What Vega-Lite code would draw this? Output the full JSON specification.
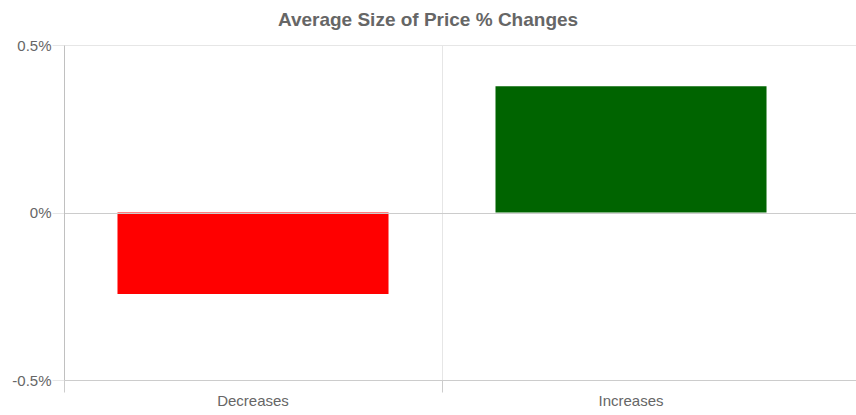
{
  "$schema": "https://vega.github.io/schema/vega-lite/v6.json",
  "autosize": {"type": "none"},
  "padding": {"left": 64, "top": 45, "right": 0, "bottom": 35},
  "width": 792,
  "height": 335,
  "background": "white",
  "title": {
    "text": "Average Size of Price % Changes",
    "font": "Liberation Sans",
    "fontSize": 19,
    "fontWeight": "bold",
    "color": "#666666",
    "anchor": "middle",
    "dx": -32,
    "offset": 8
  },
  "data": {
    "values": [
      {"category": "Decreases", "change": -0.243},
      {"category": "Increases", "change": 0.377}
    ]
  },
  "config": {
    "view": {"stroke": null},
    "axis": {"labelFont": "Liberation Sans", "labelFontSize": 15, "labelColor": "#666666"}
  },
  "mark": {"type": "bar", "width": {"band": 0.717}},
  "encoding": {
    "x": {
      "field": "category",
      "type": "nominal",
      "sort": null,
      "scale": {"paddingInner": 0, "paddingOuter": 0.0476, "align": 0},
      "axis": {
        "title": null,
        "labelAngle": 0,
        "bandPosition": 0,
        "grid": true,
        "gridColor": "#e6e6e6",
        "domainColor": "#cccccc",
        "tickColor": "#cccccc",
        "tickSize": 12,
        "labelPadding": 1
      }
    },
    "y": {
      "field": "change",
      "type": "quantitative",
      "scale": {"domain": [-0.5, 0.5], "nice": false},
      "axis": {
        "title": null,
        "zindex": 1,
        "values": [-0.5, 0, 0.5],
        "labelExpr": "datum.value + '%'",
        "grid": true,
        "gridColor": {"condition": {"test": "datum.value <= 0", "value": "#cccccc"}, "value": "#e6e6e6"},
        "domainColor": "#c0c0c0",
        "tickColor": "#e6e6e6",
        "tickSize": 12,
        "labelPadding": 1
      }
    },
    "color": {
      "field": "category",
      "type": "nominal",
      "scale": {"domain": ["Decreases", "Increases"], "range": ["#ff0000", "#006400"]},
      "legend": null
    }
  }
}
